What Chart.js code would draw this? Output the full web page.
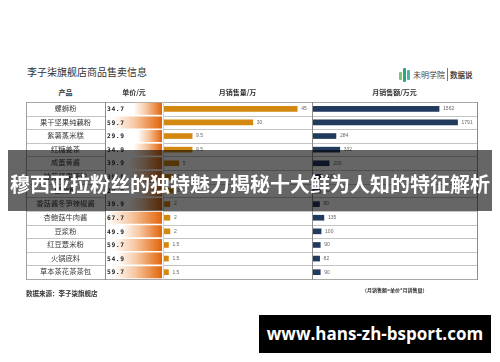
<!DOCTYPE html>
<html><head><meta charset="utf-8">
<script src="https://cdn.jsdelivr.net/npm/chart.js@4"></script>
<style>
html,body{margin:0;padding:0;background:#fff;}
#wrap{position:relative;width:500px;height:362px;overflow:hidden;font-family:"Noto Sans CJK SC","Noto Sans",sans-serif;background:#fff;}
.abs{position:absolute;white-space:nowrap;}
canvas{position:absolute;}
</style></head><body>
<div id="wrap">
  <div class="abs" style="left:27px;top:64px;font-size:10px;line-height:16px;color:#333;">李子柒旗舰店商品售卖信息</div>
  <div class="abs" id="logo" style="left:398px;top:66px;width:80px;height:18px;">
    <div class="abs" style="left:1px;top:6px;width:3px;height:8px;background:#7cc576;border-radius:1px;"></div>
    <div class="abs" style="left:5px;top:2px;width:3px;height:14px;background:#2ea58a;border-radius:1px;"></div>
    <div class="abs" style="left:9px;top:4px;width:3px;height:10px;background:#49b7a0;border-radius:1px;"></div>
    <div class="abs" style="left:15px;top:3px;font-size:8px;line-height:12px;color:#444;">未明学院</div>
    <div class="abs" style="left:49px;top:2px;width:1px;height:13px;background:#777;"></div>
    <div class="abs" style="left:52px;top:3px;font-size:7.5px;line-height:12px;color:#444;font-weight:bold;">数据说</div>
  </div>
  <div id="table"></div>
  <canvas id="cPrice" width="56" height="177" style="left:106px;top:102px;"></canvas>
  <canvas id="cSales" width="148" height="177" style="left:164px;top:102px;"></canvas>
  <canvas id="cRev" width="164" height="177" style="left:313px;top:102px;"></canvas>
  <div id="texts"></div>
  <div class="abs" style="left:26px;top:287px;font-size:6.5px;line-height:12px;color:#333;font-weight:bold;">数据来源：李子柒旗舰店</div>
  <div class="abs" style="left:362px;top:285px;font-size:5px;line-height:10px;color:#333;font-weight:bold;">（月销售额=单价*月销售量）</div>
  <div class="abs" style="left:8px;top:150px;width:484px;height:61px;background:rgba(0,0,0,0.6);"></div>
  <div class="abs" style="left:10px;top:172px;font-size:20px;line-height:24px;color:#fff;font-weight:bold;">穆西亚拉粉丝的独特魅力揭秘十大鲜为人知的特征解析</div>
  <div class="abs" style="left:259px;top:315px;width:232px;height:38px;background:#000;"></div>
  <div class="abs" style="left:259px;top:315px;width:232px;height:38px;line-height:38px;text-align:center;color:#fff;font-family:'Open Sans',sans-serif;font-weight:bold;font-size:17px;">www.hans-zh-bsport.com</div>
</div>
<script>
const products = ['螺蛳粉','果干坚果纯藕粉','紫薯蒸米糕','红糖姜茶','咸蛋黄酱','桂花坚果藕粉','酸辣粉','香菇酱冬笋辣椒酱','杏鲍菇牛肉酱','豆浆粉','红豆薏米粉','火锅底料','草本茶花茶茶包'];
const prices = [34.7,59.7,29.9,34.9,39.9,39.9,29.9,39.9,67.7,49.9,59.7,54.9,59.7];
const sales = [45,30,9.5,9.5,5,3,3,2,2,2,1.5,1.5,1.5];
const revenue = [1562,1791,284,332,200,120,90,80,135,100,90,82,90];
const headers = ['产品','单价/元','月销售量/万','月销售额/万元'];

const TOP = 102, H = 177, N = products.length, RH = H / N;
const table = document.getElementById('table');
const texts = document.getElementById('texts');
function div(parent, css, txt){ const d=document.createElement('div'); d.className='abs'; d.style.cssText=css; if(txt!=null) d.textContent=txt; parent.appendChild(d); return d; }

const hdrX = [[26,105],[105,163],[163,312],[312,477]];
headers.forEach((h,i)=>{
  div(texts, `left:${hdrX[i][0]}px;width:${hdrX[i][1]-hdrX[i][0]}px;top:85px;text-align:center;font-size:7px;line-height:14px;color:#333;font-weight:bold;`, h);
});
for(let i=0;i<=N;i++){
  const y = Math.round(TOP + i*RH);
  const c = (i===0||i===N) ? '#a8a8a8' : '#c4c4c4';
  div(table, `left:26px;top:${y}px;width:79px;height:1px;background:${c};`);
  div(table, `left:163px;top:${y}px;width:314px;height:1px;background:${c};`);
}
div(table, `left:105px;top:${TOP}px;width:58px;height:1px;background:#a8a8a8;`);
div(table, `left:105px;top:${TOP+H}px;width:58px;height:1px;background:#a8a8a8;`);
[[26,'#a0a0a0'],[105,'#8c8c8c'],[163,'#cfcfcf'],[312,'#8c8c8c'],[477,'#8c8c8c']].forEach(([x,c])=>{
  div(table, `left:${x}px;top:${TOP}px;width:1px;height:${H+1}px;background:${c};`);
});
products.forEach((p,i)=>{
  const y = TOP + i*RH;
  div(texts, `left:26px;width:79px;top:${y}px;height:${RH}px;line-height:${RH}px;text-align:center;font-size:7.3px;color:#3a3a3a;`, p);
  div(texts, `left:107px;top:${y}px;height:${RH}px;line-height:${RH}px;font-size:6.3px;color:#222;font-weight:bold;letter-spacing:0.6px;font-family:'DejaVu Sans Mono',monospace;`, prices[i].toFixed(1));
});

const valueLabels = {
  id:'valueLabels',
  afterDatasetsDraw(chart, args, opts){
    const ctx = chart.ctx; const meta = chart.getDatasetMeta(0);
    ctx.save(); ctx.font = opts.font; ctx.fillStyle = opts.color; ctx.textBaseline='middle'; ctx.textAlign='left';
    meta.data.forEach((bar,i)=>{ ctx.fillText(String(chart.data.datasets[0].data[i]), bar.x + opts.gap, bar.y); });
    ctx.restore();
  }
};

function makeBar(id, data, max, bg, o){
  return new Chart(document.getElementById(id), {
    type:'bar',
    data:{labels:products, datasets:[{data, backgroundColor:bg, borderWidth:0,
      barThickness:o.thick, barPercentage:1, categoryPercentage:o.cat||0.9}]},
    options:{indexAxis:'y', responsive:false, animation:false, devicePixelRatio:1,
      layout:{padding:0},
      scales:{x:{display:false,min:0,max,reverse:!!o.reverse}, y:{display:false}},
      plugins:{legend:{display:false}, tooltip:{enabled:false}, valueLabels:o.labels||false}},
    plugins:[valueLabels]
  });
}

const priceGrad = (c)=>{
  const ch = c.chart, xs = ch.scales && ch.scales.x;
  if(!xs || c.raw == null) return '#E46C0A';
  const x0 = xs.getPixelForValue(c.raw), x1 = xs.getPixelForValue(0);
  if(!isFinite(x0) || !isFinite(x1)) return '#E46C0A';
  const g = ch.ctx.createLinearGradient(x0,0,x1,0);
  g.addColorStop(0,'rgba(255,255,255,1)');
  g.addColorStop(0.45,'#F6C7A2');
  g.addColorStop(1,'#E2650A');
  return g;
};
const pc = makeBar('cPrice', prices, 68, priceGrad, {reverse:true, cat:0.88});
pc.update();
makeBar('cSales', sales, 50, '#D3880F', {thick:5, labels:{font:'5px "Liberation Sans"', color:'#666', gap:4}});
makeBar('cRev', revenue, 2032, '#213A5E', {thick:5, labels:{font:'5px "Liberation Sans"', color:'#666', gap:4}});
</script>
</body></html>
